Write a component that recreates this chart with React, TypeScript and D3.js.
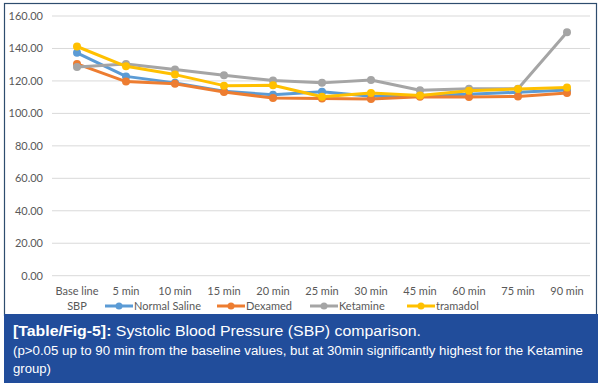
import React from 'react'
import * as d3 from 'd3'

const CATEGORIES = ['Base line', '5 min', '10 min', '15 min', '20 min', '25 min', '30 min', '45 min', '60 min', '75 min', '90 min']
const Y_TICKS = [0, 20, 40, 60, 80, 100, 120, 140, 160]

const NORMAL_SALINE = [137.3, 122.8, 118.8, 113.6, 111.5, 113.4, 110.5, 111, 111.8, 113, 114.4]
const DEXAMED = [130.5, 119.6, 118.3, 113.2, 109.5, 109.2, 108.9, 110.3, 110.1, 110.4, 112.6]
const KETAMINE = [128.6, 130.4, 127, 123.5, 120.2, 118.8, 120.6, 114.2, 115.2, 115.2, 150]
const TRAMADOL = [141.2, 129, 123.9, 117.1, 117.3, 110.3, 112.6, 111, 114, 115, 116]

const SERIES = [
  { name: 'Normal Saline', color: '#5b9bd5', values: NORMAL_SALINE },
  { name: 'Dexamed', color: '#ed7d31', values: DEXAMED },
  { name: 'Ketamine', color: '#a5a5a5', values: KETAMINE },
  { name: 'tramadol', color: '#ffc000', values: TRAMADOL },
]

const W = 600
const H = 387

export default function App() {
  const x = d3.scaleBand<string>().domain(CATEGORIES).range([52.5, 591.5])
  const y = d3.scaleLinear().domain([0, 160]).range([275.7, 16])
  const cx = (c: string) => (x(c) || 0) + x.bandwidth() / 2
  const line = d3.line<number>()
    .x((_, i) => cx(CATEGORIES[i]))
    .y(d => y(d))

  const font = 'Lato, "Open Sans", sans-serif'
  const legendX = [105, 217, 310, 407]

  return (
    <svg width={W} height={H} style={{ position: 'absolute', left: 0, top: 0, background: '#fff' }}>
      {/* frame */}
      <rect x={4.5} y={3.5} width={592} height={312} fill="#fff" stroke="#2e4d6e" strokeWidth={1.2} />

      {/* gridlines and y ticks */}
      {Y_TICKS.map(t => (
        <g key={t}>
          <line x1={52} x2={590} y1={y(t)} y2={y(t)} stroke="#d9d9d9" strokeWidth={1} />
          <text x={43} y={y(t)} dy="0.35em" textAnchor="end" fontSize={11} fill="#595959" fontFamily={font}>
            {t.toFixed(2)}
          </text>
        </g>
      ))}

      {/* x labels */}
      {CATEGORIES.map(c => (
        <text key={c} x={cx(c)} y={295} textAnchor="middle" fontSize={11} fill="#595959" fontFamily={font}>
          {c}
        </text>
      ))}
      <text x={cx(CATEGORIES[0])} y={310} textAnchor="middle" fontSize={11} fill="#595959" fontFamily={font}>SBP</text>

      {/* series */}
      {SERIES.map(s => (
        <g key={s.name}>
          <path d={line(s.values) || ''} fill="none" stroke={s.color} strokeWidth={3} strokeLinejoin="round" />
          {s.values.map((v, i) => (
            <circle key={i} cx={cx(CATEGORIES[i])} cy={y(v)} r={4} fill={s.color} />
          ))}
        </g>
      ))}

      {/* legend */}
      {SERIES.map((s, i) => (
        <g key={s.name} transform={`translate(${legendX[i]},306)`}>
          <line x1={0} x2={28} y1={0} y2={0} stroke={s.color} strokeWidth={3} />
          <circle cx={14} cy={0} r={3.5} fill={s.color} />
          <text x={29} y={0} dy="0.35em" fontSize={11} fill="#595959" fontFamily={font}>{s.name}</text>
        </g>
      ))}

      {/* caption */}
      <rect x={4} y={314} width={594} height={69} fill="#214d9b" />
      <text x={13} y={336} fontSize={15.5} fill="#fff" fontFamily='"Liberation Sans", Arial, sans-serif'
        textLength={408} lengthAdjust="spacingAndGlyphs">
        <tspan fontWeight="bold">[Table/Fig-5]:</tspan> Systolic Blood Pressure (SBP) comparison.
      </text>
      <text x={13} y={355} fontSize={12.5} fill="#fff" fontFamily='"Liberation Sans", Arial, sans-serif'
        textLength={570} lengthAdjust="spacingAndGlyphs">
        (p&gt;0.05 up to 90 min from the baseline values, but at 30min significantly highest for the Ketamine
      </text>
      <text x={13} y={373} fontSize={12.5} fill="#fff" fontFamily='"Liberation Sans", Arial, sans-serif'
        textLength={38} lengthAdjust="spacingAndGlyphs">
        group)
      </text>
    </svg>
  )
}
